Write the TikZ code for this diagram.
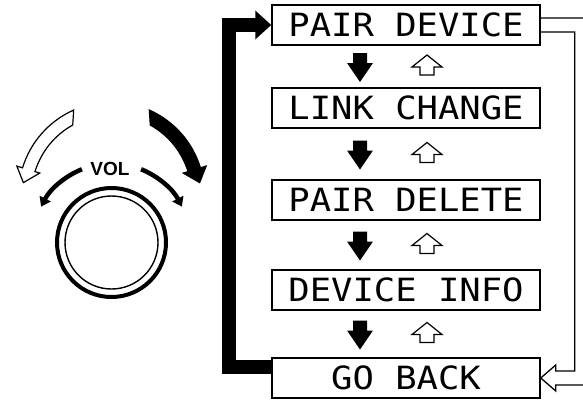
\documentclass[tikz,border=0pt]{standalone}
\usepackage{fontspec}
\usepackage{tikz}
\usetikzlibrary{arrows.meta,calc}
\newfontfamily\lcdfont[FakeStretch=1.11]{DejaVu Sans Mono}
\newfontfamily\volfont{Liberation Sans}

\begin{document}
\begin{tikzpicture}[
  x=1pt, y=1pt,
  menubox/.style={draw, line width=1.5pt, minimum width=268pt, minimum height=40pt, inner sep=0pt, font=\lcdfont\fontsize{32}{32}\selectfont},
  backarrow/.style={line width=14pt, line join=miter, -{Triangle[length=16pt, width=28pt]}},
  retarrow/.style={draw, line width=1.3pt, line join=miter},
  uparrow/.style={draw, fill=white, line width=1.2pt, line join=miter},
  volarc/.style={line width=4.5pt, -{Triangle[length=9pt, width=12pt]}},
  bigarrow/.style={draw, line width=1.2pt, line join=miter}
]
\useasboundingbox (0,0) rectangle (583,-400);
\clip (0,0) rectangle (583,-400);

\foreach \nm/\txt/\y in {pd/PAIR DEVICE/-25, lc/LINK CHANGE/-108, pdl/PAIR DELETE/-200, di/DEVICE INFO/-290, gb/GO BACK/-378}{
  \node[menubox] (\nm) at (406,\y) {\txt};
}
\foreach \u/\l in {pd/lc, lc/pdl, pdl/di, di/gb}{
  \coordinate (m) at ($(\u.south)!0.5!(\l.north)$);
  \fill ([shift={(-53,13.5)}]m) -- ++(14,0) -- ++(0,-10) -- ++(6,0) -- ++(-13,-19) -- ++(-13,19) -- ++(6,0) -- cycle;
  \draw[uparrow] ([shift={(14,-8.5)}]m) -- ++(14,0) -- ++(0,8) -- ++(8,0) -- ++(-15,12) -- ++(-15,-12) -- ++(8,0) -- cycle;
}

\draw[backarrow] ([yshift=11pt]gb.west) -- ++(-42,0) |- (pd.west);
\draw[retarrow] ([yshift=7pt]pd.east) -- ++(48,0) |- ([shift={(15,-7)}]gb.east) -- ++(0,-6) -- (gb.east) -- ++(15,13) -- ++(0,-6) -| ([shift={(34,-7)}]pd.east) -- ([yshift=-7pt]pd.east);

\coordinate (knob) at (111.5,-242.5);
\coordinate (swing) at (111.5,-195);
\draw[line width=4pt] (knob) circle[radius=54.5];
\draw[line width=1.4pt] (knob) circle[radius=46.5];
\node[font=\volfont\bfseries\fontsize{19}{19}\selectfont, inner sep=0pt] (vol) at (110,-168.5) {VOL};
\draw[volarc] ([shift={(112:79)}]knob) arc[start angle=112, end angle=153, radius=79];
\draw[volarc] ([shift={(68:79)}]knob) arc[start angle=68, end angle=27, radius=79];

\filldraw[bigarrow, fill=black] ([shift={(66:93)}]swing) arc[start angle=66, end angle=17, radius=93]
  -- ([shift={(17:99)}]swing) -- ([shift={(8:89)}]swing) -- ([shift={(17:75)}]swing)
  -- ([shift={(17:80)}]swing) arc[start angle=17, end angle=61, radius=80] -- cycle;
\filldraw[bigarrow, fill=white] ([shift={(114:93)}]swing) arc[start angle=114, end angle=163, radius=93]
  -- ([shift={(163:99)}]swing) -- ([shift={(172:89)}]swing) -- ([shift={(163:75)}]swing)
  -- ([shift={(163:80)}]swing) arc[start angle=163, end angle=119, radius=80] -- cycle;
\end{tikzpicture}
\end{document}
